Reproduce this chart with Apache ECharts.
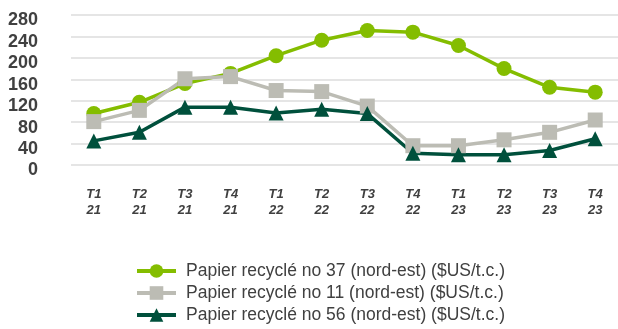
<!DOCTYPE html>
<html>
<head>
<meta charset="utf-8">
<script src="https://cdn.jsdelivr.net/npm/echarts@6/dist/echarts.min.js"></script>
<style>
  html, body { margin: 0; padding: 0; background: #ffffff; }
  #chart { width: 618px; height: 329px; }
</style>
</head>
<body>
<div id="chart"></div>
<script>
// Quarterly prices of recycled paper grades, north-east ($US/short ton)
const quarters = ['T1\n21', 'T2\n21', 'T3\n21', 'T4\n21', 'T1\n22', 'T2\n22', 'T3\n22', 'T4\n22', 'T1\n23', 'T2\n23', 'T3\n23', 'T4\n23'];
const seriesNames = [
  'Papier recyclé no 37 (nord-est) ($US/t.c.)',
  'Papier recyclé no 11 (nord-est) ($US/t.c.)',
  'Papier recyclé no 56 (nord-est) ($US/t.c.)'
];
const grade37 = [96, 117, 152, 171, 204, 233, 251, 248, 223, 180, 145, 136];
const grade11 = [81, 102, 161, 165, 139, 137, 110, 36, 36, 47, 61, 84];
const grade56 = [45, 61, 108, 108, 97, 104, 96, 22, 19, 19, 27, 49];
const yTicks = { min: 0, max: 280, step: 40 };

const sans = "'Liberation Sans', Arial, sans-serif";
const colors = ['#84bd00', '#bcbcb4', '#00503c'];

const chart = echarts.init(document.getElementById('chart'), null, { renderer: 'canvas' });

function lineSeries(name, data, color, symbol, size) {
  return {
    name: name,
    type: 'line',
    data: data,
    symbol: symbol,
    symbolSize: size,
    showSymbol: true,
    lineStyle: { color: color, width: 3.5 },
    itemStyle: { color: color },
    emphasis: { disabled: true },
    animation: false,
    z: 2
  };
}

chart.setOption({
  backgroundColor: '#ffffff',
  animation: false,
  color: colors,
  grid: { left: 71, right: -5, top: 15, bottom: 164 },
  xAxis: {
    type: 'category',
    data: quarters,
    boundaryGap: true,
    axisLine: { show: false },
    axisTick: { show: false },
    axisLabel: {
      color: '#404040',
      fontFamily: sans,
      fontWeight: 'bold',
      fontStyle: 'italic',
      fontSize: 13,
      lineHeight: 15.5,
      margin: 22,
      interval: 0
    }
  },
  yAxis: {
    type: 'value',
    min: yTicks.min,
    max: yTicks.max,
    interval: yTicks.step,
    axisLine: { show: false },
    axisTick: { show: false },
    splitLine: { lineStyle: { color: '#dcdcdc', width: 1.6 } },
    axisLabel: {
      margin: 33,
      formatter: '{v|{value}}',
      rich: {
        v: {
          color: '#404040',
          fontFamily: sans,
          fontWeight: 'bold',
          fontSize: 18,
          padding: [11, 0, 0, 0]
        }
      }
    }
  },
  legend: {
    orient: 'vertical',
    left: 130,
    top: 256,
    height: 80,
    itemWidth: 39,
    itemHeight: 17,
    itemGap: 2,
    lineStyle: { width: 4 },
    textStyle: {
      color: '#404040',
      fontFamily: sans,
      fontSize: 17.5,
      lineHeight: 20,
      padding: [0, 0, 0, 5]
    },
    data: seriesNames
  },
  series: [
    lineSeries(seriesNames[0], grade37, colors[0], 'circle', 15),
    lineSeries(seriesNames[1], grade11, colors[1], 'rect', 15),
    lineSeries(seriesNames[2], grade56, colors[2], 'triangle', 15)
  ]
});
</script>
</body>
</html>
